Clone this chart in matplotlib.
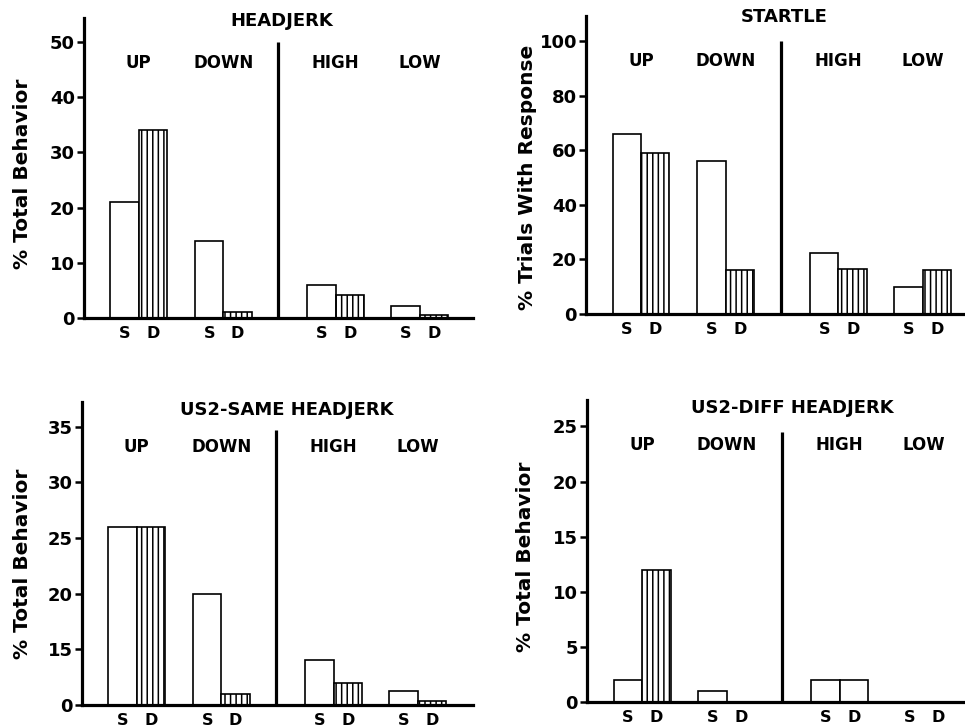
import matplotlib
matplotlib.use('Agg')
import matplotlib.pyplot as plt
import matplotlib.transforms as mtransforms
import numpy as np

plt.rcParams['font.family'] = ['DejaVu Sans']
plt.rcParams['font.weight'] = 'bold'
plt.rcParams['hatch.linewidth'] = 1.1

# ---------------- data ----------------
groups = ['UP', 'DOWN', 'HIGH', 'LOW']
bar_labels = ['S', 'D']

headjerk_S = [21, 14, 6, 2.2]
headjerk_D = [34, 1.1, 4.2, 0.5]

startle_S = [66, 56, 22.5, 10]
startle_D = [59, 16.3, 16.5, 16.3]

same_S = [26, 20, 14, 11.3]
same_D = [26, 11, 12, 10.4]

diff_S = [2, 1, 2, 0]
diff_D = [12, 0, 2, 0]

headjerk_ticks = [0, 10, 20, 30, 40, 50]
headjerk_ticklabels = ['0', '10', '20', '30', '40', '50']
startle_ticks = [0, 20, 40, 60, 80, 100]
startle_ticklabels = ['0', '20', '40', '60', '80', '100']
same_ticks = [10, 15, 20, 25, 30, 35]
same_ticklabels = ['0', '15', '20', '25', '30', '35']
diff_ticks = [0, 5, 10, 15, 20, 25]
diff_ticklabels = ['0', '5', '10', '15', '20', '25']

titles = ['HEADJERK', 'STARTLE', 'US2-SAME HEADJERK', 'US2-DIFF HEADJERK']
ylabels = ['% Total Behavior', '% Trials With Response', '% Total Behavior', '% Total Behavior']

# ---------------- layout ----------------
W, H = 965, 728
fig = plt.figure(figsize=(W / 100, H / 100), dpi=100)

group_left = np.array([0.93, 3.91, 7.86, 10.82])
divider_x = 6.84

panels = [
    dict(px=(84, 473, 318, 18), title=titles[0], ylabel=ylabels[0], S=headjerk_S, D=headjerk_D,
         ticks=headjerk_ticks, ticklabels=headjerk_ticklabels, ylim=(0, 54.3), divtop=50,
         xright=13.7, lab=(-0.134, 0.48), titley=0.99, titlex=6.95, nohatch=[]),
    dict(px=(586, 965, 314, 16), title=titles[1], ylabel=ylabels[1], S=startle_S, D=startle_D,
         ticks=startle_ticks, ticklabels=startle_ticklabels, ylim=(0, 109.2), divtop=100,
         xright=13.3, lab=(-0.129, 0.46), titley=0.995, titlex=6.95, nohatch=[]),
    dict(px=(82, 473, 705, 402), title=titles[2], ylabel=ylabels[2], S=same_S, D=same_D,
         ticks=same_ticks, ticklabels=same_ticklabels, ylim=(10, 37.2), divtop=34.7,
         xright=13.77, lab=(-0.128, 0.465), titley=0.972, titlex=7.2, nohatch=[]),
    dict(px=(587, 965, 702, 400), title=titles[3], ylabel=ylabels[3], S=diff_S, D=diff_D,
         ticks=diff_ticks, ticklabels=diff_ticklabels, ylim=(0, 27.4), divtop=24.5,
         xright=13.26, lab=(-0.138, 0.48), titley=0.972, titlex=7.2, nohatch=[2]),
]

for p in panels:
    x0, x1, yb, yt = p['px']
    ax = fig.add_axes([x0 / W, 1 - yb / H, (x1 - x0) / W, (yb - yt) / H])
    ax.set_xlim(0, p['xright'])
    ax.set_ylim(*p['ylim'])
    base = p['ylim'][0]

    ax.bar(group_left, p['S'], width=1.0, align='edge', bottom=0,
           facecolor='white', edgecolor='black', linewidth=1.2, zorder=2)
    dbars = ax.bar(group_left + 1.0, p['D'], width=1.0, align='edge', bottom=0,
                   facecolor='white', edgecolor='black', linewidth=1.2, hatch='|||', zorder=2)
    for i in p['nohatch']:
        dbars[i].set_hatch(None)

    # divider line
    ax.plot([divider_x, divider_x], [base, p['divtop']], color='black', lw=2.3,
            solid_capstyle='butt', zorder=3)

    trans = mtransforms.blended_transform_factory(ax.transData, ax.transAxes)
    for i, g in enumerate(groups):
        ax.text(group_left[i] + 1.0, 0.85, g, transform=trans, ha='center', va='center',
                fontsize=12, fontweight='bold')
    ax.text(p['titlex'], p['titley'], p['title'], transform=trans, ha='center', va='center',
            fontsize=13, fontweight='bold')

    # x tick labels S / D
    xt = np.ravel(np.column_stack([group_left + 0.5, group_left + 1.5]))
    ax.set_xticks(xt)
    ax.set_xticklabels(bar_labels * len(groups), fontsize=11.5, fontweight='bold')
    ax.tick_params(axis='x', length=0, pad=6)

    ax.set_yticks(p['ticks'])
    ax.set_yticklabels(p['ticklabels'], fontsize=13, fontweight='bold')
    ax.tick_params(axis='y', direction='out', length=5, width=1.8, pad=1.5)

    ax.set_ylabel(p['ylabel'], fontsize=14.5, fontweight='bold')
    ax.yaxis.set_label_coords(*p['lab'])

    for s in ['top', 'right']:
        ax.spines[s].set_visible(False)
    for s in ['left', 'bottom']:
        ax.spines[s].set_linewidth(2.3)
    ax.set_facecolor('none')

fig.savefig('out.png', dpi=100, facecolor='white')
